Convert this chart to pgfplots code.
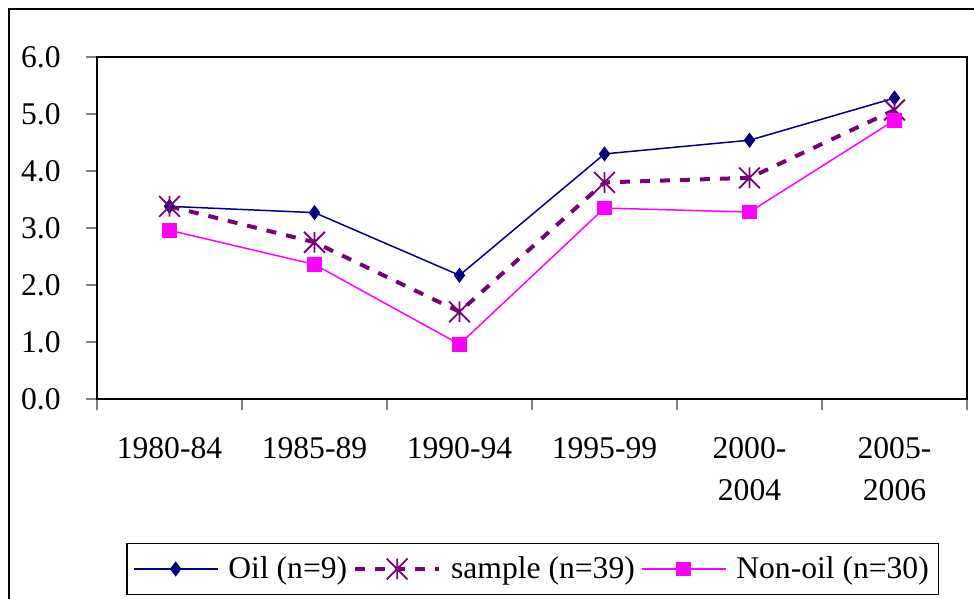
\documentclass[border=0pt]{standalone}
\usepackage{pgfplots}
\pgfplotsset{compat=1.18}
\usepackage{fontspec}
\setmainfont{Liberation Serif}
\definecolor{oilc}{HTML}{000080}
\definecolor{samc}{HTML}{7A0078}
\definecolor{nonc}{HTML}{FF00FF}
\newcommand\chartfont{\fontsize{15.8}{21}\selectfont}
\pgfdeclareplotmark{xlstar}{%
  \pgfpathmoveto{\pgfqpoint{0pt}{-\pgfplotmarksize}}%
  \pgfpathlineto{\pgfqpoint{0pt}{\pgfplotmarksize}}%
  \pgfpathmoveto{\pgfqpoint{-\pgfplotmarksize}{-\pgfplotmarksize}}%
  \pgfpathlineto{\pgfqpoint{\pgfplotmarksize}{\pgfplotmarksize}}%
  \pgfpathmoveto{\pgfqpoint{-\pgfplotmarksize}{\pgfplotmarksize}}%
  \pgfpathlineto{\pgfqpoint{\pgfplotmarksize}{-\pgfplotmarksize}}%
  \pgfusepathqstroke}
\begin{document}
\begin{tikzpicture}
\path[use as bounding box] (0,0) rectangle (487pt,299.5pt);
\draw[line width=1pt] (4.5pt,-20pt) rectangle (520pt,295pt);
\begin{axis}[
  at={(48.5pt,100pt)}, anchor=south west,
  scale only axis, width=435pt, height=171pt,
  xmin=0, xmax=6, ymin=0, ymax=6,
  xtick={0.5,1.5,2.5,3.5,4.5,5.5},
  xticklabels={1980-84,1985-89,1990-94,1995-99,{2000-\\2004},{2005-\\2006}},
  minor xtick={0,1,2,3,4,5,6},
  ytick={0,1,2,3,4,5,6},
  tick pos=left,
  tick align=outside,
  major tick length=5.5pt, minor tick length=5.5pt,
  major x tick style={draw=none},
  minor x tick style={gray, line width=0.75pt},
  major y tick style={gray, line width=0.75pt},
  axis line style={line width=1pt},
  xticklabel style={font=\chartfont, align=center, anchor=north, inner sep=0pt, yshift=-13.5pt},
  yticklabel style={font=\chartfont, inner sep=0pt, xshift=-12.5pt},
  /pgf/number format/fixed, /pgf/number format/fixed zerofill,
  /pgf/number format/precision=1, /pgf/number format/assume math mode=true,
  legend columns=3,
  legend style={at={(0.501,-0.497)}, anchor=center, draw=black, line width=0.6pt,
    font=\chartfont, inner xsep=3pt, inner ysep=4.5pt,
    nodes={inner sep=2pt},
    /tikz/every odd column/.append style={column sep=3pt},
    /tikz/every even column/.append style={column sep=1pt}},
  legend cell align=left,
  legend image code/.code={\draw[mark repeat=2, mark phase=2, #1] plot coordinates {(0pt,0pt) (21pt,0pt) (42pt,0pt)};},
]
\addplot[oilc, line width=0.75pt, mark=diamond*, mark size=3.2pt, mark options={solid, fill=oilc}]
  coordinates {(0.5,3.38)(1.5,3.27)(2.5,2.17)(3.5,4.30)(4.5,4.54)(5.5,5.28)};
\addlegendentry{Oil (n=9)}
\addplot[samc, line width=2pt, dash pattern=on 5pt off 5pt, mark=xlstar, mark size=5.2pt, mark options={solid, line width=0.9pt}]
  coordinates {(0.5,3.38)(1.5,2.75)(2.5,1.53)(3.5,3.80)(4.5,3.88)(5.5,5.07)};
\addlegendentry{sample (n=39)}
\addplot[nonc, line width=0.75pt, mark=square*, mark size=3.3pt, mark options={solid, fill=nonc}]
  coordinates {(0.5,2.96)(1.5,2.36)(2.5,0.96)(3.5,3.35)(4.5,3.28)(5.5,4.89)};
\addlegendentry{Non-oil (n=30)}
\end{axis}
\end{tikzpicture}
\end{document}
